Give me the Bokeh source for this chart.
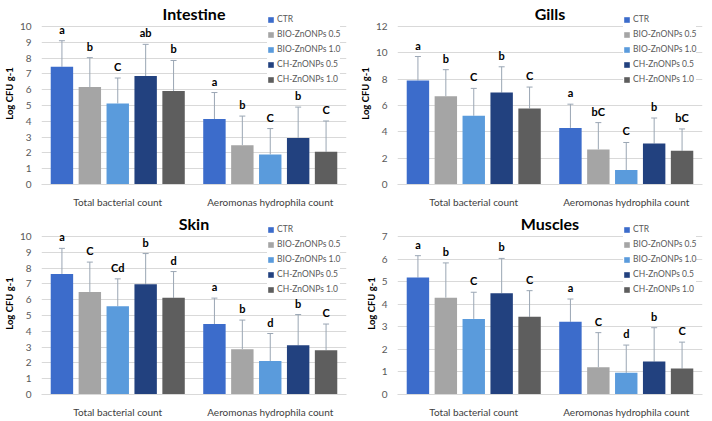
from bokeh.plotting import figure
from bokeh.models import (ColumnDataSource, FactorRange, Range1d, Whisker, TeeHead,
                          Legend, LegendItem, FixedTicker)
from bokeh.transform import dodge
from bokeh.layouts import gridplot
from bokeh.embed import file_html
from bokeh.resources import INLINE
from bokeh.core.properties import value

groups = ["Total bacterial count", "Aeromonas hydrophila count"]
series = ["CTR", "BIO-ZnONPs 0.5", "BIO-ZnONPs 1.0", "CH-ZnONPs 0.5", "CH-ZnONPs 1.0"]
colors = ["#3C6CCB", "#A5A5A5", "#5A9BDC", "#22417F", "#5E5E5E"]

# Intestine
intestine_total_mean = [7.45, 6.17, 5.13, 6.86, 5.92]
intestine_total_sd = [1.65, 1.86, 1.61, 2.01, 1.93]
intestine_total_letters = ["a", "b", "C", "ab", "b"]
intestine_aero_mean = [4.14, 2.49, 1.90, 2.95, 2.07]
intestine_aero_sd = [1.68, 1.84, 1.64, 1.95, 1.95]
intestine_aero_letters = ["a", "b", "C", "b", "C"]

# Gills
gills_total_mean = [7.90, 6.70, 5.22, 6.98, 5.78]
gills_total_sd = [1.82, 2.02, 2.08, 1.96, 1.62]
gills_total_letters = ["a", "b", "C", "b", "C"]
gills_aero_mean = [4.30, 2.66, 1.10, 3.12, 2.56]
gills_aero_sd = [1.80, 2.04, 2.09, 1.93, 1.66]
gills_aero_letters = ["a", "bC", "C", "b", "bC"]

# Skin
skin_total_mean = [7.63, 6.49, 5.58, 6.97, 6.12]
skin_total_sd = [1.62, 1.89, 1.74, 1.95, 1.66]
skin_total_letters = ["a", "C", "Cd", "b", "d"]
skin_aero_mean = [4.46, 2.86, 2.12, 3.11, 2.80]
skin_aero_sd = [1.64, 1.85, 1.74, 1.95, 1.66]
skin_aero_letters = ["a", "b", "d", "b", "C"]

# Muscles
muscles_total_mean = [5.18, 4.29, 3.35, 4.49, 3.44]
muscles_total_sd = [0.97, 1.54, 1.18, 1.54, 1.16]
muscles_total_letters = ["a", "b", "C", "b", "C"]
muscles_aero_mean = [3.22, 1.21, 0.96, 1.46, 1.15]
muscles_aero_sd = [1.01, 1.53, 1.23, 1.50, 1.17]
muscles_aero_letters = ["a", "C", "d", "b", "C"]

FONT = "Lato"
offsets = [-0.366, -0.183, 0.0, 0.183, 0.366]
FRAME_H = 182
TOP_GAP = 24  # px between top of frame and the highest gridline


def panel(title, tm, tsd, tl, am, asd, al, ymax, ystep):
    y_end = ymax * FRAME_H / (FRAME_H - TOP_GAP)
    p = figure(x_range=FactorRange(factors=groups), y_range=Range1d(0, y_end),
               frame_width=305, frame_height=FRAME_H,
               output_backend="svg", toolbar_location=None,
               min_border_top=2, min_border_right=10, min_border_bottom=0, min_border_left=0)
    p.outline_line_color = None
    p.xgrid.grid_line_color = None
    p.ygrid.grid_line_color = "#D9D9D9"

    p.yaxis.ticker = FixedTicker(ticks=list(range(0, ymax + 1, ystep)))
    p.yaxis.axis_line_color = None
    p.yaxis.major_tick_line_color = None
    p.yaxis.minor_tick_line_color = None
    p.yaxis.major_label_text_font = FONT
    p.yaxis.major_label_text_font_size = "10px"
    p.yaxis.major_label_text_color = "#595959"
    p.yaxis.major_label_standoff = 4
    p.yaxis.axis_label = "Log CFU g-1"
    p.yaxis.axis_label_text_font = FONT
    p.yaxis.axis_label_text_font_size = "9.5px"
    p.yaxis.axis_label_text_font_style = "bold"
    p.yaxis.axis_label_text_color = "#000000"
    p.yaxis.axis_label_standoff = 2

    p.xaxis.axis_line_color = "#D9D9D9"
    p.xaxis.major_tick_line_color = None
    p.xaxis.minor_tick_line_color = None
    p.xaxis.major_label_text_font = FONT
    p.xaxis.major_label_text_font_size = "10px"
    p.xaxis.major_label_text_color = "#404040"
    p.xaxis.major_label_standoff = 5

    # panel title, drawn inside the frame so the legend can sit level with it
    p.text(x=[1.0], y=[y_end], text=[title], text_align="center", text_baseline="top",
           y_offset=1, text_font=value(FONT), text_font_size="16px",
           text_font_style="bold", text_color="#000000")

    items = []
    for i, name in enumerate(series):
        src = ColumnDataSource(dict(
            x=groups,
            top=[tm[i], am[i]],
            upper=[tm[i] + tsd[i], am[i] + asd[i]],
            let=[tl[i], al[i]],
        ))
        xs = dodge("x", offsets[i], range=p.x_range)
        r = p.vbar(x=xs, top="top", width=0.147, source=src,
                   fill_color=colors[i], line_color=None)
        w = Whisker(base=xs, lower="top", upper="upper", source=src,
                    dimension="height", line_color="#9AA6B4", line_width=1,
                    upper_head=TeeHead(size=6, line_color="#9AA6B4", line_width=1),
                    lower_head=None)
        p.add_layout(w)
        p.text(x=xs, y="upper", text="let", source=src, text_align="center",
               text_baseline="bottom", y_offset=-5, text_font=value(FONT),
               text_font_size="11px", text_font_style="bold", text_color="#000000")
        items.append(LegendItem(label=name, renderers=[r]))

    leg = Legend(items=items, location=(226, 100), border_line_color=None,
                 background_fill_color="white", background_fill_alpha=1.0,
                 glyph_width=7, glyph_height=7, label_text_font=FONT,
                 label_text_font_size="8.5px", label_text_color="#595959",
                 spacing=5, padding=2, margin=0, label_standoff=3, label_height=8)
    p.add_layout(leg)
    return p


p1 = panel("Intestine", intestine_total_mean, intestine_total_sd, intestine_total_letters,
           intestine_aero_mean, intestine_aero_sd, intestine_aero_letters, 10, 1)
p2 = panel("Gills", gills_total_mean, gills_total_sd, gills_total_letters,
           gills_aero_mean, gills_aero_sd, gills_aero_letters, 12, 2)
p3 = panel("Skin", skin_total_mean, skin_total_sd, skin_total_letters,
           skin_aero_mean, skin_aero_sd, skin_aero_letters, 10, 1)
p4 = panel("Muscles", muscles_total_mean, muscles_total_sd, muscles_total_letters,
           muscles_aero_mean, muscles_aero_sd, muscles_aero_letters, 7, 1)

grid = gridplot([[p1, p2], [p3, p4]], toolbar_location=None)

open("out.html", "w").write(file_html(grid, INLINE))
